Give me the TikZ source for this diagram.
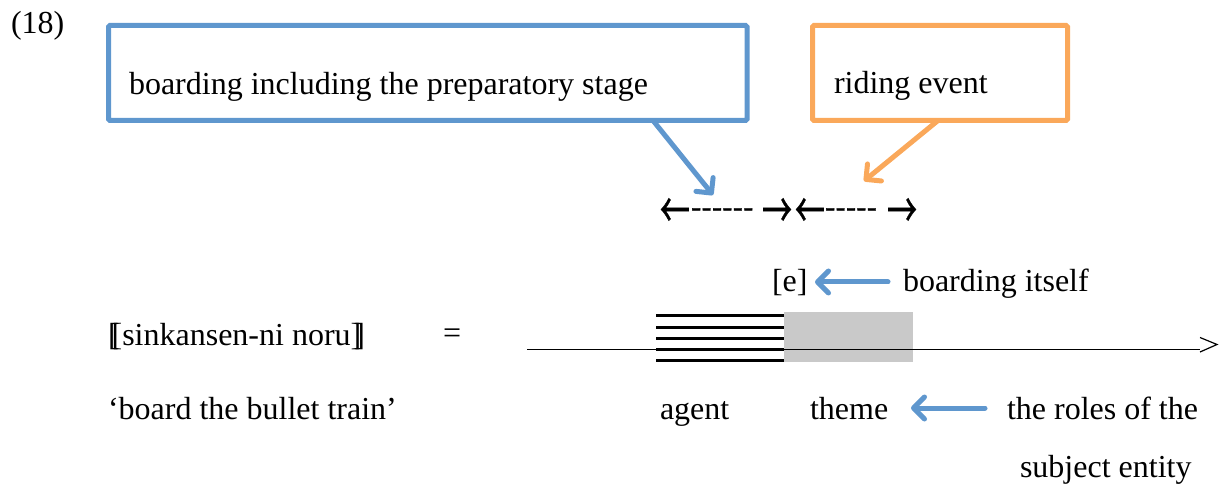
\documentclass[tikz,border=0pt]{standalone}
\usepackage{graphicx}
\usepackage{fontspec}
\setmainfont{Liberation Serif}
\newfontfamily\symfont[FakeBold=1.2]{Noto Sans CJK JP}
\usetikzlibrary{arrows.meta,calc}
\definecolor{boxblue}{HTML}{5F97CE}
\definecolor{boxorange}{HTML}{FAA85A}
\definecolor{shadegray}{HTML}{C9C9C9}
% tall arrow glyph for the span markers
\newcommand{\spanarrow}[1]{\scalebox{1}[1.6]{#1}}

\begin{document}
\begin{tikzpicture}[x=1pt,y=-1pt,
  txt/.style={inner sep=0pt, outer sep=0pt, anchor=base west,
              font=\fontsize{32}{38}\selectfont},
  frame/.style={draw=#1, line width=5pt, rounded corners=1.5pt, rectangle,
                inner sep=0pt, outer sep=0pt, anchor=north west},
  pointer/.style={draw=#1, line width=5pt, line cap=round,
                  -{Straight Barb[length=11pt,width=22pt,round]}},
  arrowglyph/.style={inner sep=0pt, outer sep=0pt, anchor=west,
                     font=\symfont\fontsize{30}{36}\selectfont},
  dashglyph/.style={inner sep=0pt, outer sep=0pt, anchor=west,
                    font=\symfont\fontsize{30}{36}\selectfont},
  stripe/.style={line width=3pt},
  timeline/.style={line width=1.2pt}]
\useasboundingbox (0,0) rectangle (1221,486);

% example number
\node[txt] (num) at (11,34) {(18)};

% labelled frames
\node[frame=boxblue, minimum width=638.5pt, minimum height=95pt] (bluebox) at (108.5,25.5) {};
\node[txt] (bluetext) at (129,95) {boarding including the preparatory stage};
\node[frame=boxorange, minimum width=255pt, minimum height=95pt] (orangebox) at (812.5,25.5) {};
\node[txt] (orangetext) at (834,94) {riding event};

% pointers from the frames
\coordinate (bluetip) at (713,195);
\coordinate (orangetip) at (864,181);
\draw[pointer=boxblue] ([xshift=544.5pt]bluebox.south west) -- (bluetip);
\draw[pointer=boxorange] ([xshift=125.5pt]orangebox.south west) -- (orangetip);

% span markers
\node[arrowglyph] (la1) at (660,213) {\spanarrow{←}};
\node[dashglyph] (d1) at (691,213) {------};
\node[arrowglyph] (ra1) at (762,213) {\spanarrow{→}};
\node[arrowglyph] (la2) at (795,213) {\spanarrow{←}};
\node[dashglyph] (d2) at (825,213) {-----};
\node[arrowglyph] (ra2) at (887,213) {\spanarrow{→}};

% event label
\node[txt] (ev) at (772,292) {[e]};
\node[txt] (evtext) at (903,292) {boarding itself};
\coordinate (evtail) at (888,282);
\coordinate (evtip) at (815,282);
\draw[pointer=boxblue] (evtail) -- (evtip);

% expression and gloss
\node[txt] (expr) at (108,345) {[\kern-.22em[sinkansen-ni noru]\kern-.22em]};
\node[txt] (eq) at (443,344) {=};
\node[txt] (gloss) at (108,419) {‘board the bullet train’};

% time line with agent / theme segments
\fill[shadegray] (784,312) rectangle (913,362);
\coordinate (tstart) at (527,349.5);
\coordinate (tend) at (1200,349.5);
\draw[timeline] (tstart) -- (tend);
\draw[timeline] (1200,337.5) -- (1217,344.5) -- (1200,352);
\foreach \yy in {316,327.5,338.5,349.5,360}
  \draw[stripe] (656,\yy) -- (784,\yy);

% role labels
\node[txt] (agent) at (660,419) {agent};
\node[txt] (theme) at (810,419) {theme};
\node[txt] (roles1) at (1007,419) {the roles of the};
\node[txt] (roles2) at (1020,477) {subject entity};
\coordinate (roletail) at (985,408);
\coordinate (roletip) at (911,408);
\draw[pointer=boxblue] (roletail) -- (roletip);
\end{tikzpicture}
\end{document}
